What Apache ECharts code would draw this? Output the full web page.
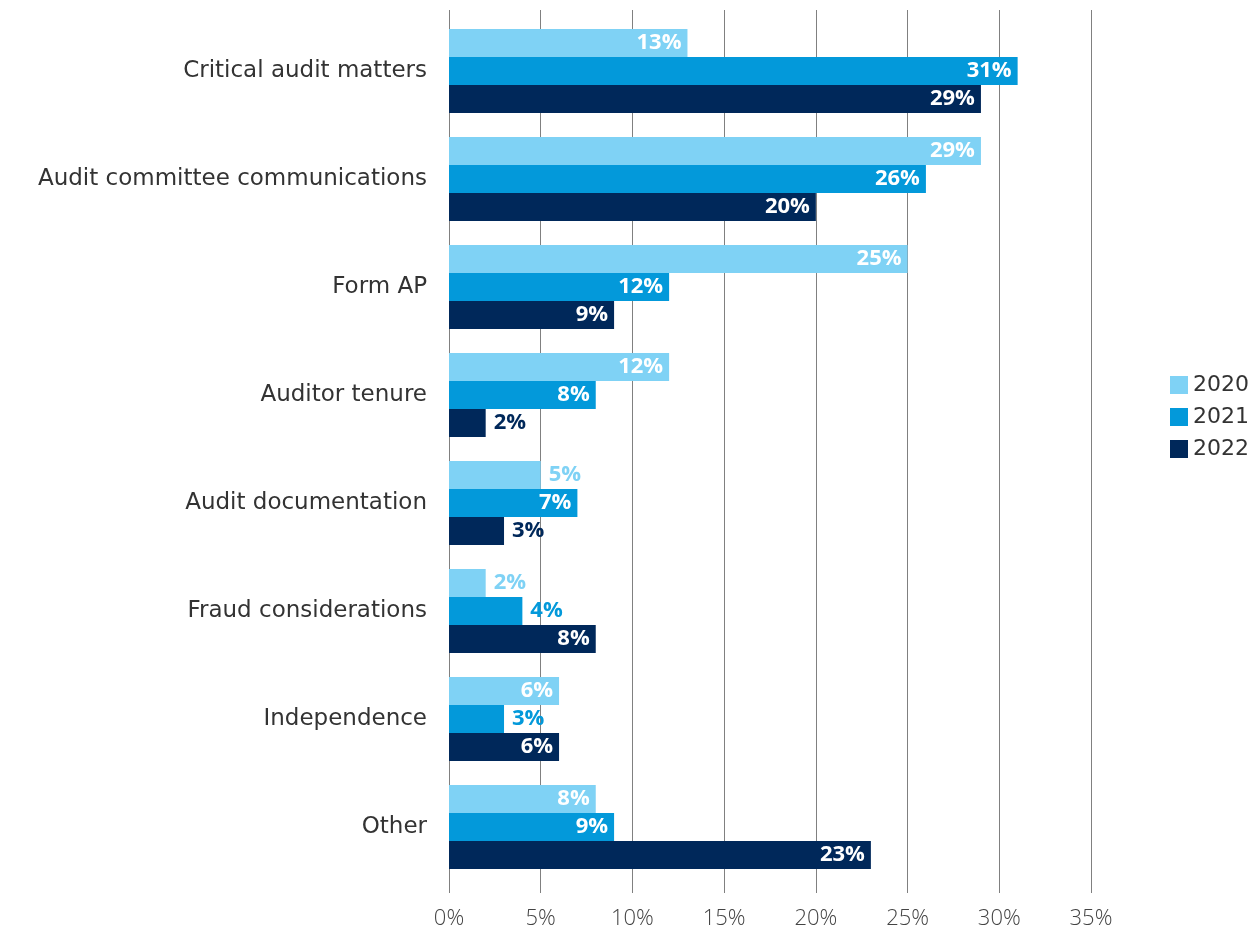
<!DOCTYPE html>
<html>
<head>
<meta charset="utf-8">
<script src="https://cdn.jsdelivr.net/npm/echarts@6/dist/echarts.min.js"></script>
<style>
  html, body { margin: 0; padding: 0; background: #fff; }
  #chart { width: 1257px; height: 933px; }
</style>
</head>
<body>
<div id="chart"></div>
<script>
// Topics and share of mentions per year (%)
const categories = [
  'Critical audit matters',
  'Audit committee communications',
  'Form AP',
  'Auditor tenure',
  'Audit documentation',
  'Fraud considerations',
  'Independence',
  'Other'
]
const years = ['2020', '2021', '2022']
const values2020 = [13, 29, 25, 12, 5, 2, 6, 8]
const values2021 = [31, 26, 12, 8, 7, 4, 3, 9]
const values2022 = [29, 20, 9, 2, 3, 8, 6, 23]
const xTicks = [0, 5, 10, 15, 20, 25, 30, 35]

const colors = ['#7fd2f5', '#0399da', '#00285a']
const font = "'Open Sans', 'Noto Sans', sans-serif"
const wideFont = "'DejaVu Sans', 'Open Sans', sans-serif"

const chart = echarts.init(document.getElementById('chart'))

// small bars get their label outside, in the bar colour
const toData = (vals, color) => vals.map((v) => ({
  value: v,
  label: v <= 5
    ? { position: 'right', distance: 8, color }
    : { position: 'insideRight', distance: 6, color: '#fff' },
}))

const makeSeries = (name, vals, color) => ({
  type: 'bar',
  name,
  data: toData(vals, color),
  barWidth: 28,
  barGap: '0%',
  itemStyle: { color },
  label: {
    show: true,
    formatter: '{c}%',
    fontFamily: font,
    fontWeight: 'bold',
    fontSize: 22,
  },
})

chart.setOption({
  backgroundColor: '#fff',
  animation: false,
  grid: { left: 449, right: 166, top: 17, bottom: 52 },
  legend: {
    orient: 'vertical',
    left: 1165,
    top: 369,
    data: years,
    itemWidth: 18,
    itemHeight: 18,
    itemGap: 10,
    icon: 'rect',
    textStyle: { fontFamily: wideFont, fontSize: 22, color: '#333' },
  },
  xAxis: [
    {
      type: 'value',
      min: 0,
      max: 35,
      interval: 5,
      axisLine: { show: false },
      axisTick: { show: true, length: 12, lineStyle: { color: '#808080' } },
      splitLine: { show: true, lineStyle: { color: '#808080', width: 1 } },
      axisLabel: {
        formatter: (v) => xTicks.includes(v) ? v + '%' : '',
        fontFamily: font,
        fontWeight: 300,
        fontSize: 22,
        color: '#444',
        margin: 27,
      },
    },
    {
      type: 'value',
      position: 'top',
      min: 0,
      max: 35,
      interval: 5,
      axisLine: { show: false },
      axisTick: { show: true, length: 7, lineStyle: { color: '#808080' } },
      splitLine: { show: false },
      axisLabel: { show: false },
    },
  ],
  yAxis: {
    type: 'category',
    inverse: true,
    data: categories,
    axisLine: { show: false },
    axisTick: { show: false },
    axisLabel: {
      fontFamily: wideFont,
      fontSize: 23,
      color: '#333',
      margin: 22,
    },
  },
  series: [
    makeSeries(years[0], values2020, colors[0]),
    makeSeries(years[1], values2021, colors[1]),
    makeSeries(years[2], values2022, colors[2]),
  ],
})
</script>
</body>
</html>
